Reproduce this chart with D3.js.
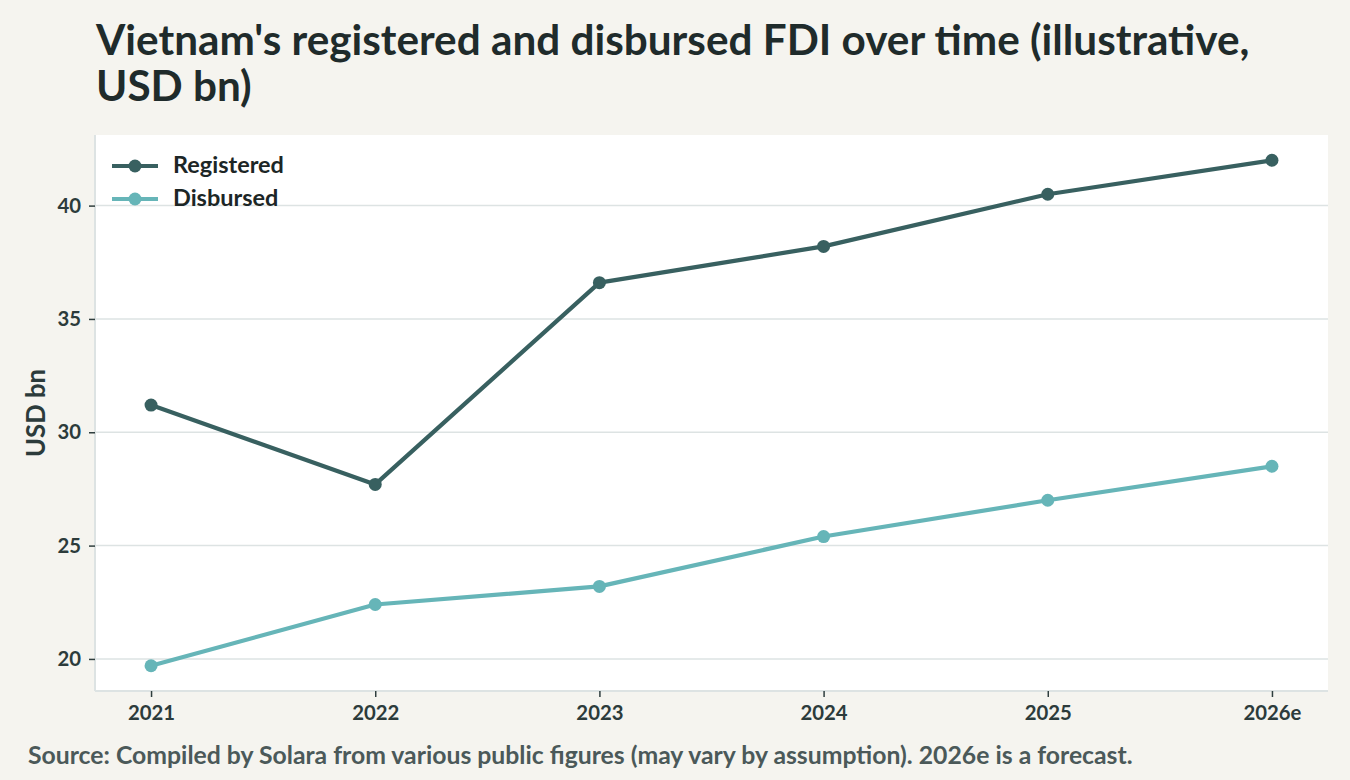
<!DOCTYPE html>
<html>
<head>
<meta charset="utf-8">
<script src="https://cdn.jsdelivr.net/npm/d3@7"></script>
<style>
  html, body { margin: 0; padding: 0; background: #f5f4ef; }
  svg { display: block; }
  text { font-family: "Lato", "Source Sans Pro", "Noto Sans", sans-serif; font-weight: 700; }
</style>
</head>
<body>
<svg id="chart" width="1350" height="780"></svg>
<script>
const years = ["2021", "2022", "2023", "2024", "2025", "2026e"];
const registered = [31.2, 27.7, 36.6, 38.2, 40.5, 42.0];
const disbursed = [19.7, 22.4, 23.2, 25.4, 27.0, 28.5];
const yTicks = [20, 25, 30, 35, 40];
const seriesNames = ["Registered", "Disbursed"];
const titleLines = ["Vietnam's registered and disbursed FDI over time (illustrative,", "USD bn)"];
const yLabel = "USD bn";
const sourceText = "Source: Compiled by Solara from various public figures (may vary by assumption). 2026e is a forecast.";

const colors = ["#386060", "#66b5b8"];
const svg = d3.select("#chart");
const W = 1350, H = 780;
const m = { left: 95, right: 22, top: 135, bottom: 89 };
const pw = W - m.left - m.right, ph = H - m.top - m.bottom;

function fit(sel, target) {
  const w = sel.node().getComputedTextLength();
  const fs = parseFloat(sel.attr("font-size"));
  const nf = fs * target / w;
  sel.attr("font-size", nf);
  return nf;
}

svg.append("rect").attr("width", W).attr("height", H).attr("fill", "#f5f4ef");

// y domain with 5% margins around data
const all = registered.concat(disbursed);
const lo = d3.min(all), hi = d3.max(all), pad = (hi - lo) * 0.05;
const y = d3.scaleLinear().domain([lo - pad, hi + pad]).range([m.top + ph, m.top]);
const xi = d3.scaleLinear().domain([-0.25, years.length - 0.75]).range([m.left, m.left + pw]);

const g = svg.append("g");
g.append("rect").attr("x", m.left).attr("y", m.top).attr("width", pw).attr("height", ph).attr("fill", "#ffffff");

// gridlines
g.append("g").selectAll("line").data(yTicks).join("line")
  .attr("x1", m.left).attr("x2", m.left + pw)
  .attr("y1", d => y(d)).attr("y2", d => y(d))
  .attr("stroke", "#dde3e3").attr("stroke-width", 1.5);

// tick font size fitted from the widest label
const probe = svg.append("text").attr("font-size", 18).text(years[years.length - 1]);
const tickFs = fit(probe, 58);
probe.remove();

// axes
const yAxis = d3.axisLeft(y).tickValues(yTicks).tickSize(6).tickPadding(8);
const ya = g.append("g").attr("transform", `translate(${m.left},0)`).call(yAxis);
const xAxis = d3.axisBottom(xi).tickValues(d3.range(years.length)).tickFormat(i => years[i]).tickSize(6).tickPadding(9);
const xa = g.append("g").attr("transform", `translate(0,${m.top + ph})`).call(xAxis);
[ya, xa].forEach(a => {
  a.select(".domain").attr("stroke", "#dde3e3").attr("stroke-width", 2);
  a.selectAll(".tick line").attr("stroke", "#2f3e3e").attr("stroke-width", 1.5);
  a.selectAll(".tick text").attr("fill", "#2c3b3b").attr("font-size", tickFs)
    .style("font-family", '"Lato", sans-serif').style("font-weight", 700);
});
ya.select(".domain").attr("d", `M0,${m.top}V${m.top + ph}`);
xa.select(".domain").attr("d", `M${m.left},0H${m.left + pw}`);

// lines
const data = [registered, disbursed];
const line = d3.line().x((d, i) => xi(i)).y(d => y(d));
data.forEach((s, k) => {
  g.append("path").datum(s).attr("d", line).attr("fill", "none")
    .attr("stroke", colors[k]).attr("stroke-width", 4.2).attr("stroke-linejoin", "round");
  g.append("g").selectAll("circle").data(s).join("circle")
    .attr("cx", (d, i) => xi(i)).attr("cy", d => y(d)).attr("r", 6.5).attr("fill", colors[k]);
});

// legend
let legFs = 20;
seriesNames.forEach((n, k) => {
  const ly = 166 + k * 33;
  svg.append("line").attr("x1", 112).attr("x2", 158).attr("y1", ly).attr("y2", ly)
    .attr("stroke", colors[k]).attr("stroke-width", 4.2);
  svg.append("circle").attr("cx", 135).attr("cy", ly).attr("r", 6.5).attr("fill", colors[k]);
  const t = svg.append("text").attr("x", 173).attr("y", ly + 7).attr("font-size", legFs).attr("fill", "#1c2626").text(n);
  if (k === 0) legFs = fit(t, 111);
});

// y label
const yl = svg.append("text").attr("transform", `translate(45,${m.top + ph / 2}) rotate(-90)`)
  .attr("text-anchor", "middle").attr("font-size", 22).attr("fill", "#2c3b3b").text(yLabel);
fit(yl, 88);

// title (one text element, two lines)
const probeT = svg.append("text").attr("font-size", 36).text(titleLines[0]);
const titleFs = fit(probeT, 1154);
probeT.remove();
const title = svg.append("text").attr("x", 96).attr("y", 55).attr("font-size", titleFs).attr("fill", "#1f2b2b");
titleLines.forEach((l, i) => {
  title.append("tspan").attr("x", 96).attr("dy", i === 0 ? 0 : 46).text(l);
});

const s = svg.append("text").attr("x", 28).attr("y", 764).attr("font-size", 20).attr("fill", "#4b5959").text(sourceText);
fit(s, 1105);
</script>
</body>
</html>
